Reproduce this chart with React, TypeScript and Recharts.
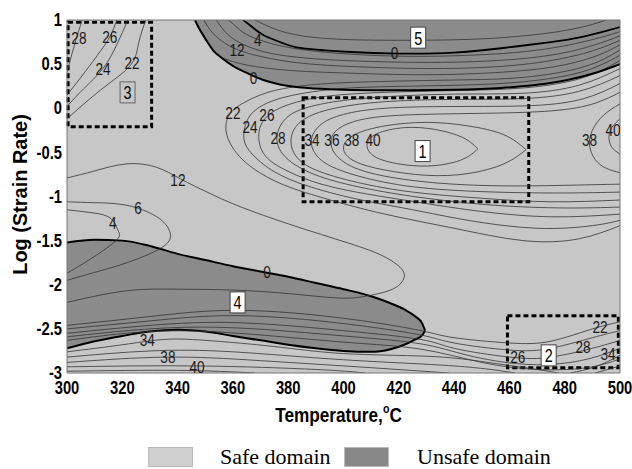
import React from "react";
import {
  ComposedChart,
  Line,
  Area,
  Scatter,
  XAxis,
  YAxis,
  CartesianGrid,
  ReferenceArea,
  Label,
} from "recharts";

type P = [number, number];

const SANS = "'Liberation Sans', Arial, Helvetica, sans-serif";
const SERIF = "'Liberation Serif', 'Times New Roman', serif";

const SAFE = "#c7c7c7";
const UNSAFE = "#8b8b8b";
const LINE = "#333";

const xTicks = [300, 320, 340, 360, 380, 400, 420, 440, 460, 480, 500];
const yTicks = [-3, -2.5, -2, -1.5, -1, -0.5, 0, 0.5, 1];

// unsafe domain at the top: x, lower boundary (upper edge is log rate = 1)
const unsafeTop: P[] = [
  [346.3, 1], [347.5, 0.92], [349, 0.84], [351, 0.74], [353, 0.65], [356, 0.57],
  [360, 0.48], [365, 0.4], [371, 0.32], [377, 0.27], [385, 0.235], [395, 0.215],
  [410, 0.205], [425, 0.205], [440, 0.21], [457, 0.23], [470, 0.265], [481, 0.32],
  [490, 0.39], [500, 0.5],
];

// unsafe domain at the bottom left: x, lower boundary, upper boundary
const unsafeBottom: [number, number, number][] = [
  [300, -2.72, -1.52], [310, -2.64, -1.49], [320, -2.58, -1.5], [330, -2.53, -1.56],
  [340, -2.51, -1.65], [350, -2.53, -1.72], [360, -2.58, -1.79], [370, -2.63, -1.85],
  [380, -2.68, -1.91], [390, -2.72, -1.98], [400, -2.75, -2.05], [410, -2.76, -2.13],
  [417, -2.73, -2.21], [422, -2.68, -2.28], [426, -2.62, -2.36], [428.5, -2.57, -2.44],
  [429.5, -2.52, -2.52],
];

// thick "0" contour inside the top unsafe domain
const zeroTop: P[] = [
  [363.7, 1], [367, 0.92], [371, 0.83], [377, 0.75], [383, 0.69], [392, 0.66],
  [401, 0.64], [420, 0.62], [440, 0.63], [457, 0.68], [475, 0.75], [485, 0.8],
  [493, 0.86], [500, 0.92],
];

// thin contours of power dissipation efficiency
const topA: P[] = [
  [368, 1], [375, 0.9], [385, 0.82], [400, 0.78], [420, 0.77], [445, 0.78],
  [465, 0.82], [480, 0.88], [490, 0.95], [495, 1],
];
const top4: P[] = [
  [358.5, 1], [362, 0.9], [366, 0.82], [372, 0.75], [380, 0.69], [395, 0.63],
  [420, 0.59], [445, 0.6], [465, 0.64], [482, 0.72], [495, 0.82], [500, 0.87],
];
const top8: P[] = [
  [354, 1], [358, 0.84], [364, 0.72], [374, 0.62], [390, 0.56], [410, 0.53],
  [435, 0.52], [460, 0.55], [480, 0.63], [493, 0.74], [500, 0.82],
];
const top12: P[] = [
  [349.5, 1], [352, 0.88], [356, 0.76], [362, 0.66], [371, 0.58], [385, 0.51],
  [405, 0.47], [430, 0.45], [455, 0.47], [475, 0.54], [490, 0.65], [500, 0.77],
];
const top16: P[] = [
  [356, 0.57], [365, 0.49], [380, 0.43], [400, 0.4], [430, 0.38], [458, 0.41],
  [478, 0.48], [492, 0.6], [500, 0.72],
];

const box3c28: P[] = [[305.5, 1], [303, 0.75], [300.8, 0.5], [300, 0.4]];
const box3c26: P[] = [[318, 1], [315.5, 0.81], [311, 0.6], [305, 0.35], [300, 0.15]];
const box3c24: P[] = [[322, 1], [318, 0.72], [313, 0.45], [306, 0.22], [300, 0.02]];
const box3c22: P[] = [[328.5, 1], [326, 0.75], [323.5, 0.51], [316, 0.3], [308, 0.1], [300, -0.12]];

const u22: P[] = [
  [500, 0.66], [487, 0.47], [465, 0.35], [440, 0.32], [410, 0.3], [390, 0.27],
  [375, 0.2], [365, 0.08], [359, -0.06], [357.5, -0.25], [360, -0.45], [366, -0.65],
  [377, -0.85], [393, -1.02], [415, -1.2], [440, -1.36], [465, -1.5], [485, -1.48],
  [500, -1.33],
];
const u24: P[] = [
  [500, 0.6], [486, 0.41], [465, 0.3], [440, 0.26], [410, 0.24], [392, 0.2],
  [378, 0.12], [369, 0], [365, -0.15], [364, -0.35], [367, -0.52], [374, -0.7],
  [386, -0.87], [405, -1.03], [425, -1.15], [445, -1.27], [470, -1.36], [490, -1.33],
  [500, -1.27],
];
const u26: P[] = [
  [500, 0.54], [486, 0.34], [465, 0.23], [440, 0.2], [415, 0.18], [395, 0.14],
  [382, 0.06], [374, -0.05], [370, -0.2], [369.5, -0.38], [372, -0.55], [379, -0.7],
  [392, -0.86], [410, -0.98], [430, -1.08], [450, -1.17], [475, -1.23], [500, -1.2],
];
const u28: P[] = [
  [500, 0.45], [485, 0.26], [465, 0.17], [440, 0.16], [415, 0.13], [398, 0.08],
  [386, 0], [379, -0.12], [376, -0.3], [377, -0.47], [382, -0.63], [393, -0.79],
  [410, -0.92], [430, -1.02], [455, -1.1], [480, -1.13], [500, -1.12],
];
const u30: P[] = [
  [500, 0.37], [485, 0.19], [465, 0.11], [440, 0.1], [418, 0.08], [402, 0.03],
  [390, -0.06], [383, -0.2], [381, -0.38], [383, -0.55], [390, -0.7], [405, -0.84],
  [425, -0.95], [450, -1.02], [475, -1.06], [500, -1.04],
];
const u34: P[] = [
  [500, 0.28], [487, 0.11], [468, 0.03], [440, 0.02], [415, 0], [400, -0.07],
  [392, -0.18], [388.5, -0.34], [389.5, -0.5], [395, -0.65], [408, -0.79], [428, -0.9],
  [455, -0.95], [480, -0.96], [500, -0.95],
];
const u36: P[] = [
  [500, 0.18], [488, 0.03], [470, -0.04], [445, -0.06], [420, -0.08], [405, -0.14],
  [397.5, -0.25], [395.5, -0.38], [397, -0.52], [403, -0.66], [415, -0.77], [435, -0.85],
  [460, -0.88], [485, -0.87], [500, -0.86],
];
const ring38: P[] = [
  [466, -0.47], [458, -0.3], [445, -0.2], [430, -0.16], [415, -0.2], [404, -0.3],
  [400, -0.45], [404, -0.6], [415, -0.7], [430, -0.76], [445, -0.74], [458, -0.63],
  [466, -0.47],
];
const ring40: P[] = [
  [448.6, -0.46], [443, -0.33], [433, -0.24], [422, -0.22], [412, -0.29], [408.5, -0.42],
  [412, -0.56], [422, -0.64], [433, -0.65], [443, -0.58], [448.6, -0.46],
];
const right38: P[] = [
  [500, 0.05], [494, -0.08], [490, -0.25], [489, -0.42], [491, -0.58], [495, -0.68], [500, -0.73],
];
const right40: P[] = [[500, -0.12], [497, -0.22], [496, -0.33], [497, -0.44], [500, -0.52]];

const c12: P[] = [
  [300, -0.79], [310, -0.71], [321.7, -0.63], [332.5, -0.67], [341, -0.8], [352, -0.97],
  [363, -1.12], [381, -1.32], [402, -1.53], [414, -1.67], [421, -1.82], [421.5, -1.95],
  [417, -2.06], [408, -2.13], [398, -2.15], [380, -2.1], [360, -2.06], [340, -2.05],
  [324, -2.06], [310, -2.13], [300, -2.2],
];
const c6: P[] = [
  [300, -1.06], [310, -1.07], [321.7, -1.1], [332.5, -1.23], [337.2, -1.4], [334.7, -1.57],
  [321.7, -1.75], [310, -1.86], [300, -1.95],
];
const c4: P[] = [
  [300, -1.15], [308, -1.18], [315.5, -1.24], [318.4, -1.38], [318, -1.49], [309.4, -1.69],
  [300, -1.87],
];

const low1: P[] = [
  [300, -2.46], [330, -2.36], [362, -2.29], [400, -2.38], [428, -2.52], [440, -2.6],
  [460, -2.66], [475, -2.64], [489, -2.51], [500, -2.42],
];
const low2: P[] = [
  [300, -2.5], [330, -2.41], [362, -2.35], [400, -2.44], [428, -2.57], [440, -2.66],
  [460, -2.74], [475, -2.72], [490, -2.6], [500, -2.52],
];
const low3: P[] = [
  [300, -2.55], [330, -2.46], [362, -2.43], [400, -2.52], [428, -2.62], [440, -2.72],
  [460, -2.82], [475, -2.82], [490, -2.72], [500, -2.63],
];
const low4: P[] = [
  [300, -2.59], [330, -2.5], [362, -2.49], [400, -2.58], [428, -2.67], [445, -2.8],
  [465, -2.9], [482, -2.88], [493, -2.8], [500, -2.72],
];
const low5: P[] = [
  [300, -2.63], [330, -2.53], [362, -2.55], [400, -2.65], [428, -2.73], [450, -2.88],
  [470, -2.96], [488, -2.94], [500, -2.84],
];
const base34: P[] = [
  [300, -2.76], [320, -2.68], [335, -2.62], [350, -2.63], [375, -2.7], [400, -2.78],
  [430, -2.81], [450, -2.87], [470, -2.96], [478, -3],
];
const base36: P[] = [[300, -2.82], [330, -2.75], [360, -2.76], [400, -2.85], [440, -2.92], [462, -3]];
const base38: P[] = [[300, -2.88], [336, -2.82], [370, -2.86], [410, -2.94], [438, -3]];
const base40: P[] = [[300, -2.93], [347, -2.92], [390, -2.96], [408, -3]];
const base42: P[] = [[300, -2.98], [340, -2.97], [368, -3]];
const corner1: P[] = [[482, -3], [491, -2.93], [500, -2.8]];
const corner2: P[] = [[491, -3], [500, -2.92]];

const thinContours: P[][] = [
  topA, top4, top8, top12, top16, box3c28, box3c26, box3c24, box3c22,
  u22, u24, u26, u28, u30, u34, u36, ring38, ring40, right38, right40,
  c12, c6, c4, low1, low2, low3, low4, low5,
  base34, base36, base38, base40, base42, corner1, corner2,
];

// contour labels: text, x, y
const contourLabels: [string, number, number][] = [
  ["28", 304.3, 0.8], ["26", 315.5, 0.81], ["24", 313, 0.45], ["22", 323.5, 0.51],
  ["12", 361.5, 0.66], ["4", 369, 0.77], ["0", 367.5, 0.34], ["0", 418.5, 0.63],
  ["22", 360, -0.05], ["24", 366.2, -0.21], ["26", 372.3, -0.08], ["28", 376.3, -0.34],
  ["34", 388.6, -0.36], ["36", 395.8, -0.36], ["38", 403, -0.36], ["40", 410.7, -0.36],
  ["38", 489, -0.36], ["40", 497.5, -0.25],
  ["12", 340.1, -0.81], ["6", 325.7, -1.13], ["4", 316.6, -1.3], ["0", 372.3, -1.85],
  ["34", 329, -2.63], ["38", 336.5, -2.82], ["40", 347, -2.93],
  ["22", 492.8, -2.48], ["26", 463, -2.82], ["28", 486.6, -2.7], ["34", 495.7, -2.78],
];

// domain numbers: text, x, y
const domainTags: [string, number, number][] = [
  ["1", 428.6, -0.485], ["2", 474.2, -2.8], ["3", 321.9, 0.18], ["4", 361.7, -2.2], ["5", 427, 0.8],
];

// dashed domain boxes: x1, x2, y1, y2
const domainBoxes: [number, number, number, number][] = [
  [300.4, 330.6, -0.21, 0.975],
  [385.4, 467, -1.06, 0.12],
  [459.3, 499.4, -2.94, -2.35],
];

const toXY = (pts: P[]) => pts.map(([x, y]) => ({ x, y }));
const topAreaData = unsafeTop.map(([x, lo]) => ({ x, r: [lo, 1] }));
const topBoundaryData = unsafeTop.map(([x, lo]) => ({ x, y: lo }));
const bottomAreaData = unsafeBottom.map(([x, lo, hi]) => ({ x, r: [lo, hi] }));
const labelData = contourLabels.map(([t, x, y]) => ({ t, x, y }));
const tagData = domainTags.map(([t, x, y]) => ({ t, x, y }));

const XTick = (props: any) => {
  const { x, y, payload } = props;
  return (
    <text
      transform={`translate(${x},${y}) scale(0.82,1)`}
      textAnchor="middle"
      dy="0.78em"
      fontSize={18}
      fontWeight="bold"
      fontFamily={SANS}
      fill="#000"
    >
      {payload.value}
    </text>
  );
};

const YTick = (props: any) => {
  const { x, y, payload } = props;
  return (
    <text
      transform={`translate(${x},${y}) scale(0.82,1)`}
      textAnchor="end"
      dy="0.34em"
      fontSize={18}
      fontWeight="bold"
      fontFamily={SANS}
      fill="#000"
    >
      {payload.value}
    </text>
  );
};

const XTitle = (props: any) => {
  const vb = props.viewBox || { x: 67, y: 373, width: 553, height: 96 };
  const cx = vb.x + vb.width / 2 - 5;
  const cy = vb.y + 49;
  return (
    <text
      transform={`translate(${cx},${cy}) scale(0.82,1)`}
      textAnchor="middle"
      fontSize={21}
      fontWeight="bold"
      fontFamily={SANS}
      fill="#000"
    >
      Temperature,
      <tspan dy={-9} fontSize={13}>o</tspan>
      <tspan dy={9}>C</tspan>
    </text>
  );
};

const YTitle = (props: any) => {
  const vb = props.viewBox || { x: 0, y: 20, width: 67, height: 353 };
  const cx = vb.x + 19;
  const cy = vb.y + vb.height / 2 - 2;
  return (
    <text
      transform={`translate(${cx},${cy}) rotate(-90) scale(0.95,1)`}
      textAnchor="middle"
      dy="0.36em"
      fontSize={21}
      fontWeight="bold"
      fontFamily={SANS}
      fill="#000"
    >
      Log (Strain Rate)
    </text>
  );
};

const ContourText = (props: any) => {
  const { cx, cy, payload } = props;
  if (cx == null || cy == null) return null;
  return (
    <text
      transform={`translate(${cx},${cy}) scale(0.8,1)`}
      textAnchor="middle"
      dy="0.36em"
      fontSize={17}
      fontFamily={SANS}
      fill="#1a1a1a"
    >
      {payload.t}
    </text>
  );
};

const DomainTag = (props: any) => {
  const { cx, cy, payload } = props;
  if (cx == null || cy == null) return null;
  const grey = payload.t === "3";
  return (
    <g>
      <rect
        x={cx - 7.5}
        y={cy - 10.5}
        width={15}
        height={21}
        fill={grey ? SAFE : "#fff"}
        stroke={grey ? "#666" : "#444"}
        strokeWidth={1}
      />
      <text
        transform={`translate(${cx},${cy}) scale(0.8,1)`}
        textAnchor="middle"
        dy="0.38em"
        fontSize={18}
        fontFamily={SANS}
        fill="#000"
      >
        {payload.t}
      </text>
    </g>
  );
};

const legendItems = [
  { name: "Safe domain", color: "#d0d0d0", swatch: 148, text: 220 },
  { name: "Unsafe domain", color: "#888888", swatch: 344, text: 417 },
];

export default function App() {
  return (
    <div style={{ position: "absolute", left: 0, top: 0, width: 632, height: 469, background: "#fff" }}>
      <ComposedChart width={632} height={469} margin={{ top: 20, right: 12, left: 0, bottom: 0 }}>
        <CartesianGrid horizontal={false} vertical={false} fill={SAFE} fillOpacity={1} />
        <XAxis
          type="number"
          dataKey="x"
          domain={[300, 500]}
          ticks={xTicks}
          allowDataOverflow
          height={96}
          tickLine={false}
          tickSize={0}
          tickMargin={7}
          axisLine={{ stroke: "#777" }}
          tick={XTick}
        >
          <Label content={XTitle} />
        </XAxis>
        <XAxis
          xAxisId="innerBottom"
          type="number"
          domain={[300, 500]}
          ticks={xTicks}
          allowDataOverflow
          mirror
          tick={false}
          tickSize={5}
          tickLine={{ stroke: "#222" }}
          axisLine={false}
        />
        <XAxis
          xAxisId="innerTop"
          orientation="top"
          type="number"
          domain={[300, 500]}
          ticks={xTicks}
          allowDataOverflow
          mirror
          tick={false}
          tickSize={5}
          tickLine={{ stroke: "#222" }}
          axisLine={{ stroke: "#777" }}
        />
        <YAxis
          type="number"
          dataKey="y"
          domain={[-3, 1]}
          ticks={yTicks}
          allowDataOverflow
          width={67}
          tickLine={false}
          tickSize={0}
          tickMargin={5}
          axisLine={{ stroke: "#777" }}
          tick={YTick}
        >
          <Label content={YTitle} />
        </YAxis>
        <YAxis
          yAxisId="innerLeft"
          type="number"
          domain={[-3, 1]}
          ticks={yTicks}
          allowDataOverflow
          mirror
          tick={false}
          tickSize={5}
          tickLine={{ stroke: "#222" }}
          axisLine={false}
        />
        <YAxis
          yAxisId="innerRight"
          orientation="right"
          type="number"
          domain={[-3, 1]}
          ticks={yTicks}
          allowDataOverflow
          mirror
          tick={false}
          tickSize={5}
          tickLine={{ stroke: "#222" }}
          axisLine={{ stroke: "#777" }}
        />

        <Area
          data={topAreaData}
          dataKey="r"
          type="monotone"
          fill={UNSAFE}
          fillOpacity={1}
          stroke="none"
          isAnimationActive={false}
        />
        <Area
          data={bottomAreaData}
          dataKey="r"
          type="monotone"
          fill={UNSAFE}
          fillOpacity={1}
          stroke="#000"
          strokeWidth={2}
          isAnimationActive={false}
        />

        {thinContours.map((pts, i) => (
          <Line
            key={`c${i}`}
            data={toXY(pts)}
            dataKey="y"
            type="natural"
            stroke={LINE}
            strokeWidth={0.8}
            dot={false}
            activeDot={false}
            isAnimationActive={false}
          />
        ))}

        <Line
          data={topBoundaryData}
          dataKey="y"
          type="monotone"
          stroke="#000"
          strokeWidth={2}
          dot={false}
          activeDot={false}
          isAnimationActive={false}
        />
        <Line
          data={toXY(zeroTop)}
          dataKey="y"
          type="natural"
          stroke="#000"
          strokeWidth={1.8}
          dot={false}
          activeDot={false}
          isAnimationActive={false}
        />

        {domainBoxes.map(([x1, x2, y1, y2], i) => (
          <ReferenceArea
            key={`b${i}`}
            x1={x1}
            x2={x2}
            y1={y1}
            y2={y2}
            fill="none"
            fillOpacity={0}
            stroke="#000"
            strokeWidth={3}
            strokeDasharray="5 3"
            ifOverflow="visible"
          />
        ))}

        <Scatter data={labelData} shape={ContourText} isAnimationActive={false} />
        <Scatter data={tagData} shape={DomainTag} isAnimationActive={false} />
      </ComposedChart>

      {legendItems.map((item) => (
        <React.Fragment key={item.name}>
          <div
            style={{
              position: "absolute",
              left: item.swatch,
              top: 447,
              width: 45,
              height: 20,
              background: item.color,
              border: "1px solid #bbb",
              boxSizing: "border-box",
            }}
          />
          <div
            style={{
              position: "absolute",
              left: item.text,
              top: 446,
              fontFamily: SERIF,
              fontSize: 22,
              lineHeight: 1,
              color: "#000",
              whiteSpace: "nowrap",
            }}
          >
            {item.name}
          </div>
        </React.Fragment>
      ))}
    </div>
  );
}
